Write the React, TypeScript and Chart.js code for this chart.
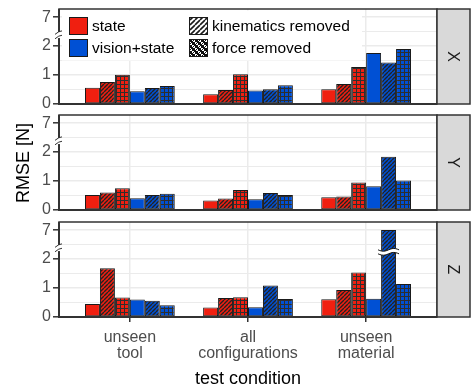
import React, { useEffect, useRef } from "react";
import { Chart, registerables } from "chart.js";

Chart.register(...registerables);

// ---------------- data ----------------
const categories = [["unseen", "tool"], ["all", "configurations"], ["unseen", "material"]];
const facetLabels = ["X", "Y", "Z"];
const yTickLabels = ["0", "1", "2", "7"];
const seriesLabels = [
  "state",
  "state, kinematics removed",
  "state, force removed",
  "vision+state",
  "vision+state, kinematics removed",
  "vision+state, force removed",
];

// X facet
const xState = [0.56, 0.34, 0.51];
const xStateKin = [0.76, 0.48, 0.69];
const xStateForce = [1.01, 1.03, 1.28];
const xVision = [0.44, 0.47, 1.76];
const xVisionKin = [0.55, 0.51, 1.43];
const xVisionForce = [0.62, 0.65, 1.9];

// Y facet
const yState = [0.52, 0.33, 0.44];
const yStateKin = [0.6, 0.4, 0.47];
const yStateForce = [0.75, 0.69, 0.95];
const yVision = [0.41, 0.37, 0.82];
const yVisionKin = [0.52, 0.59, 1.84];
const yVisionForce = [0.56, 0.52, 1.02];

// Z facet
const zState = [0.45, 0.33, 0.61];
const zStateKin = [1.68, 0.66, 0.93];
const zStateForce = [0.67, 0.68, 1.54];
const zVision = [0.6, 0.34, 0.63];
const zVisionKin = [0.56, 1.09, 7.0];
const zVisionForce = [0.41, 0.62, 1.14];

const facetSeries = [
  [xState, xStateKin, xStateForce, xVision, xVisionKin, xVisionForce],
  [yState, yStateKin, yStateForce, yVision, yVisionKin, yVisionForce],
  [zState, zStateKin, zStateForce, zVision, zVisionKin, zVisionForce],
];

// ---------------- styling / layout ----------------
const FONT = '"Liberation Sans", Arial, Helvetica, sans-serif';
const W = 471;
const H = 392;
const PLOT_LEFT = 59;
const PLOT_RIGHT = 437;
const STRIP_RIGHT = 470;
const PANELS = [
  { top: 9, bottom: 104 },
  { top: 115, bottom: 210 },
  { top: 222, bottom: 317 },
];
const RED = "#f01f10";
const BLUE = "#0050d4";
const DARK = "#222222";
const BREAK_AT = 2.3; // values above are shown on compressed upper segment
const Y_MAX = 3.28;

function toDisplay(v: number) {
  return v <= BREAK_AT ? v : 3 + (v - 7) * 0.05;
}

function makeTile(size: number, draw: (c: CanvasRenderingContext2D) => void) {
  const t = document.createElement("canvas");
  t.width = size;
  t.height = size;
  const c = t.getContext("2d")!;
  draw(c);
  return t;
}

function hatchPattern(ctx: CanvasRenderingContext2D, base: string, line: string, size = 4, lw = 1.4) {
  const tile = makeTile(size, (c) => {
    c.fillStyle = base;
    c.fillRect(0, 0, size, size);
    c.strokeStyle = line;
    c.lineWidth = lw;
    c.beginPath();
    for (const o of [-size, 0, size]) {
      c.moveTo(o, size);
      c.lineTo(o + size, 0);
    }
    c.stroke();
  });
  return ctx.createPattern(tile, "repeat")!;
}

function gridPattern(ctx: CanvasRenderingContext2D, base: string, line: string) {
  const tile = makeTile(4, (c) => {
    c.fillStyle = line;
    c.fillRect(0, 0, 4, 4);
    c.fillStyle = base;
    c.fillRect(1, 1, 3, 3);
  });
  return ctx.createPattern(tile, "repeat")!;
}

function checkerKey(ctx: CanvasRenderingContext2D) {
  const tile = makeTile(6, (c) => {
    c.fillStyle = "#ffffff";
    c.fillRect(0, 0, 6, 6);
    c.fillStyle = "#111";
    c.fillRect(0, 0, 3, 3);
    c.fillRect(3, 3, 3, 3);
    c.strokeStyle = "#111";
    c.lineWidth = 1;
    c.beginPath();
    c.moveTo(0, 6);
    c.lineTo(6, 0);
    c.stroke();
  });
  return ctx.createPattern(tile, "repeat")!;
}

function PanelChart({ idx }: { idx: number }) {
  const ref = useRef<HTMLCanvasElement | null>(null);

  useEffect(() => {
    const canvas = ref.current!;
    const ctx = canvas.getContext("2d")!;
    const layout = PANELS[idx];
    const isBottom = idx === PANELS.length - 1;

    const fills = [
      RED,
      hatchPattern(ctx, RED, DARK),
      gridPattern(ctx, RED, "#2e2e2e"),
      BLUE,
      hatchPattern(ctx, BLUE, DARK),
      gridPattern(ctx, BLUE, "#2e2e2e"),
    ];

    const datasets = facetSeries[idx].map((vals, i) => ({
      label: seriesLabels[i],
      data: vals.map((v, j) => ({ x: j + 1, y: toDisplay(v), raw: v })),
      backgroundColor: fills[i],
      borderColor: "#1a1a1a",
      borderWidth: 1,
      borderSkipped: false as const,
      categoryPercentage: 0.76,
      barPercentage: 1,
    }));

    const panelPlugin = {
      id: "panelDecor" + idx,
      afterDatasetsDraw(chart: any) {
        const c = chart.ctx as CanvasRenderingContext2D;
        const a = chart.chartArea;
        const ys = chart.scales.y;
        // broken bars (values above the break)
        chart.data.datasets.forEach((ds: any, di: number) => {
          const meta = chart.getDatasetMeta(di);
          ds.data.forEach((pt: any, pi: number) => {
            if (pt.raw > BREAK_AT) {
              const el = meta.data[pi];
              const yb = ys.getPixelForValue(2.25);
              const x0 = el.x - el.width / 2 - 3;
              const x1 = el.x + el.width / 2 + 3;
              const wave = (off: number) => {
                const n = 12;
                const pts: [number, number][] = [];
                for (let k = 0; k <= n; k++) {
                  const x = x0 + ((x1 - x0) * k) / n;
                  pts.push([x, yb + off + 1.4 * Math.sin((k / n) * Math.PI * 2)]);
                }
                return pts;
              };
              const top = wave(-2);
              const bot = wave(2);
              c.save();
              c.beginPath();
              top.forEach(([x, y], k) => (k ? c.lineTo(x, y) : c.moveTo(x, y)));
              bot.slice().reverse().forEach(([x, y]) => c.lineTo(x, y));
              c.closePath();
              c.fillStyle = "#ffffff";
              c.fill();
              c.strokeStyle = "#111";
              c.lineWidth = 1;
              c.beginPath();
              top.forEach(([x, y], k) => (k ? c.lineTo(x, y) : c.moveTo(x, y)));
              c.stroke();
              c.beginPath();
              bot.forEach(([x, y], k) => (k ? c.lineTo(x, y) : c.moveTo(x, y)));
              c.stroke();
              c.restore();
            }
          });
        });

        // legend (first facet)
        if (idx === 0) {
          c.save();
          c.fillStyle = "#ffffff";
          c.fillRect(a.left + 3, a.top + 1.5, 300, 50);
          const keys = [
            { x: 69, y: 17, fill: RED, text: "state" },
            { x: 69, y: 39, fill: BLUE, text: "vision+state" },
            { x: 189, y: 17, fill: hatchPattern(c, "#ffffff", "#1a1a1a", 5, 1.6), text: "kinematics removed" },
            { x: 189, y: 39, fill: checkerKey(c), text: "force removed" },
          ];
          c.font = `15.5px ${FONT}`;
          c.textBaseline = "middle";
          c.textAlign = "left";
          keys.forEach((k) => {
            c.fillStyle = k.fill as any;
            c.fillRect(k.x, k.y, 19, 18);
            c.strokeStyle = "#1a1a1a";
            c.lineWidth = 1;
            c.strokeRect(k.x + 0.5, k.y + 0.5, 18, 17);
            c.fillStyle = "#000000";
            c.fillText(k.text, k.x + 23, k.y + 9.5);
          });
          c.restore();
        }
      },
      afterDraw(chart: any) {
        const c = chart.ctx as CanvasRenderingContext2D;
        const a = chart.chartArea;
        const ys = chart.scales.y;
        c.save();
        // panel border
        c.strokeStyle = "#333333";
        c.lineWidth = 1.5;
        c.strokeRect(a.left, a.top, a.right - a.left, a.bottom - a.top);
        c.lineWidth = 2;
        c.beginPath();
        c.moveTo(a.left, a.top);
        c.lineTo(a.left, a.bottom);
        c.lineTo(a.right, a.bottom);
        c.stroke();
        // strip
        c.fillStyle = "#d9d9d9";
        c.fillRect(a.right, a.top, STRIP_RIGHT - a.right, a.bottom - a.top);
        c.lineWidth = 1.5;
        c.strokeRect(a.right, a.top, STRIP_RIGHT - a.right, a.bottom - a.top);
        c.translate((a.right + STRIP_RIGHT) / 2, (a.top + a.bottom) / 2);
        c.rotate(Math.PI / 2);
        c.fillStyle = "#1a1a1a";
        c.font = `16px ${FONT}`;
        c.textAlign = "center";
        c.textBaseline = "middle";
        c.fillText(facetLabels[idx], 0, 1);
        c.restore();
        // axis break mark
        const yb = ys.getPixelForValue(2.38);
        c.save();
        c.fillStyle = "#ffffff";
        c.fillRect(a.left - 2, yb - 3, 4, 6);
        c.strokeStyle = "#333333";
        c.lineWidth = 1;
        for (const d of [-2.2, 2.2]) {
          c.beginPath();
          c.moveTo(a.left - 4, yb + d + 1.5);
          c.quadraticCurveTo(a.left, yb + d - 2, a.left + 3, yb + d - 2);
          c.stroke();
        }
        c.restore();
      },
    };

    const yTickValues = [0, 0.5, 1, 1.5, 2, 2.5, 3];
    const isMajor = (v: number) => Math.abs(v - Math.round(v)) < 1e-6;

    const chart = new Chart(canvas, {
      type: "bar",
      data: { datasets: datasets as any },
      options: {
        animation: false,
        responsive: false,
        events: [],
        layout: { padding: { top: layout.top, right: W - PLOT_RIGHT, left: 0, bottom: 0 } },
        plugins: { legend: { display: false }, tooltip: { enabled: false } },
        scales: {
          x: {
            type: "linear",
            min: 0.4,
            max: 3.6,
            offset: false,
            grid: {
              offset: false,
              color: "#ebebeb",
              lineWidth: 1.5,
              drawTicks: isBottom,
              tickLength: 5,
              tickColor: "#333333",
              tickWidth: 1.5,
            },
            border: { display: false },
            ticks: {
              display: isBottom,
              autoSkip: false,
              maxRotation: 0,
              padding: 8,
              color: "#4d4d4d",
              font: { family: FONT, size: 16, lineHeight: 1.0 },
              callback: (v: any) => categories[Math.round(Number(v)) - 1] as any,
            },
            afterBuildTicks: (s: any) => {
              s.ticks = [1, 2, 3].map((v) => ({ value: v }));
            },
            afterFit: (s: any) => {
              s.height = H - layout.bottom;
              s.paddingLeft = 0;
              s.paddingRight = 0;
            },
          } as any,
          y: {
            min: 0,
            max: Y_MAX,
            grid: {
              color: "#ebebeb",
              lineWidth: (c: any) => (isMajor(c.tick?.value ?? 0) ? 1.6 : 1),
              drawTicks: true,
              tickLength: 6,
              tickWidth: 1.5,
              tickColor: (c: any) => (isMajor(c.tick?.value ?? 0.5) ? "#333333" : "rgba(0,0,0,0)"),
            },
            border: { display: false },
            ticks: {
              autoSkip: false,
              padding: 2,
              color: "#4d4d4d",
              font: { family: FONT, size: 16 },
              callback: (v: any) => {
                const n = Number(v);
                return isMajor(n) ? yTickLabels[Math.round(n)] : "";
              },
            },
            afterBuildTicks: (s: any) => {
              s.ticks = yTickValues.map((v) => ({ value: v }));
            },
            afterFit: (s: any) => {
              s.width = PLOT_LEFT;
              s.paddingTop = 0;
              s.paddingBottom = 0;
            },
          } as any,
        },
      },
      plugins: [panelPlugin],
    });

    return () => chart.destroy();
  }, [idx]);

  return (
    <canvas
      ref={ref}
      width={W}
      height={H}
      style={{ position: "absolute", left: 0, top: 0, width: W, height: H }}
    />
  );
}

export default function App() {
  return (
    <div
      style={{
        position: "fixed",
        left: 0,
        top: 0,
        width: W,
        height: H,
        background: "#ffffff",
        overflow: "hidden",
        fontFamily: FONT,
      }}
    >
      {facetLabels.map((_, i) => (
        <PanelChart key={i} idx={i} />
      ))}
      <div
        style={{
          position: "absolute",
          left: 23,
          top: 163,
          transform: "translate(-50%, -50%) rotate(-90deg)",
          fontSize: 18,
          lineHeight: 1,
          color: "#000",
          whiteSpace: "nowrap",
        }}
      >
        RMSE [N]
      </div>
      <div
        style={{
          position: "absolute",
          left: 248,
          top: 378,
          transform: "translate(-50%, -50%)",
          fontSize: 18,
          lineHeight: 1,
          color: "#000",
          whiteSpace: "nowrap",
        }}
      >
        test condition
      </div>
    </div>
  );
}
